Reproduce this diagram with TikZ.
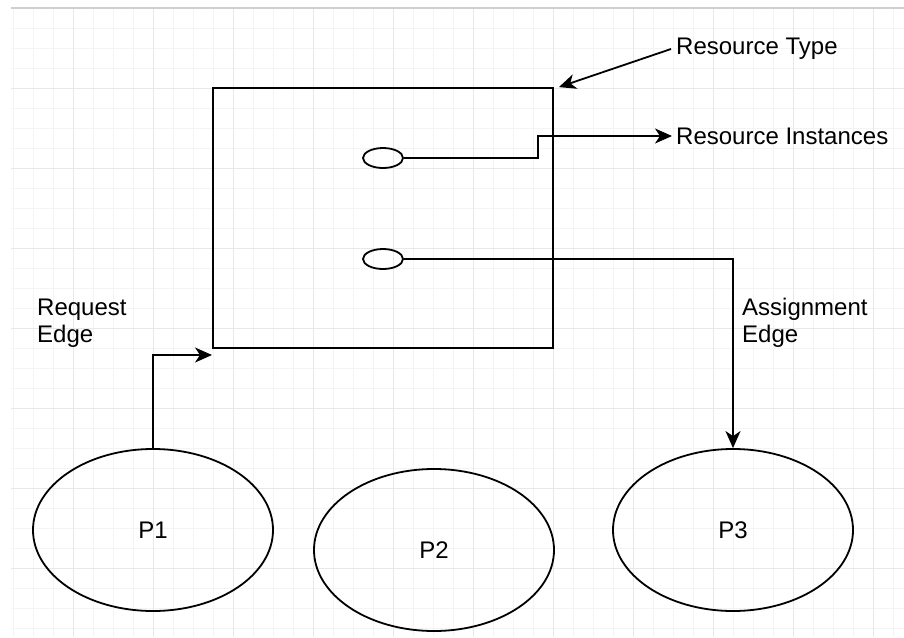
\documentclass[tikz,border=0pt]{standalone}
\usepackage{fontspec}
\setmainfont{Liberation Sans}
\usetikzlibrary{calc,arrows.meta,shapes.geometric}
\definecolor{LGrid}{HTML}{F4F4F4}
\definecolor{MGrid}{HTML}{E8E8E8}
\definecolor{Frame}{HTML}{CFCFCF}

\tikzset{
    lbl/.style={font=\fontsize{24}{27}\selectfont, inner sep=0pt},
    restbox/.style={draw, line width=1.8pt, minimum width=340, minimum height=260, inner sep=0pt},
    inst/.style={draw, line width=1.8pt, ellipse, minimum width=40, minimum height=20, inner sep=0pt},
    proc/.style={draw, line width=1.8pt, ellipse, minimum width=240, minimum height=162,
        font=\fontsize{24}{27}\selectfont},
    edge/.style={line width=1.8pt, -{Stealth[length=17pt, width=15pt, inset=5pt]}}
}

\newcommand{\Canvas}{
\useasboundingbox (0,0) rectangle (904,637);
\foreach \x in {13,33,...,893} \draw[LGrid] (\x,8) -- (\x,637);
\foreach \y in {28,48,...,628} \draw[LGrid] (11,\y) -- (904,\y);
\foreach \x in {73,153,...,873} \draw[MGrid] (\x,8) -- (\x,637);
\foreach \y in {88,168,...,568} \draw[MGrid] (11,\y) -- (904,\y);
\draw[Frame, line width=1.2pt] (11,8) -- (904,8);
}

\begin{document}
\begin{tikzpicture}[x=1pt, y=-1pt]
\Canvas

\node[restbox] (restype) at (383,218) {};
\node[inst] (inst1) at (383,158) {};
\node[inst] (inst2) at (383,259) {};

\node[proc] (P1) at (153,530) {P1};
\node[proc] (P2) at (434,550) {P2};
\node[proc] (P3) at (733,530) {P3};

\node[lbl, anchor=west, inner xsep=5pt] (typelbl) at (671,49) {Resource Type};
\node[lbl, anchor=west, inner xsep=4pt] (instlbl) at (672,136) {Resource Instances};
\node[lbl, anchor=west, align=left] (reqlbl) at (37,323) {Request\\Edge};
\node[lbl, anchor=west, align=left] (asglbl) at (742,323) {Assignment\\Edge};

\coordinate (reqend) at (212,355);

\draw[edge] (typelbl.west) -- ($(restype.north east)+(5,0)$);
\draw[edge] (inst1.east) -- ++(134,0) |- (instlbl.west);
\draw[edge] (inst2.east) -| (P3.north);
\draw[edge] (P1.north) |- (reqend);
\end{tikzpicture}
\end{document}
